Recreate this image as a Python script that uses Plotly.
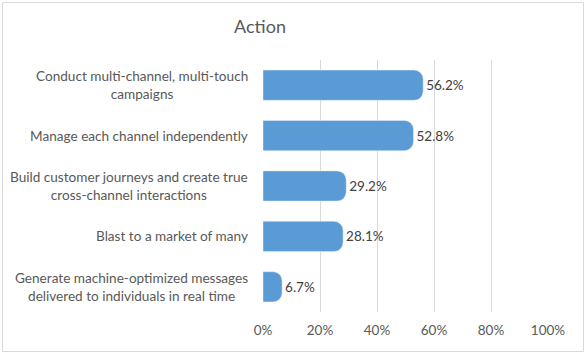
import plotly.graph_objects as go

categories = [
    "Conduct multi-channel, multi-touch<br>campaigns",
    "Manage each channel independently",
    "Build customer journeys and create true<br>cross-channel interactions",
    "Blast to a market of many",
    "Generate machine-optimized messages<br>delivered to individuals in real time",
]
values = [0.562, 0.528, 0.292, 0.281, 0.067]
tick_vals = [0, 0.2, 0.4, 0.6, 0.8, 1.0]
tick_text = ["0%", "20%", "40%", "60%", "80%", "100%"]

W, H = 587, 355
L, R, T, B = 263, 39, 60, 43
FONT = "Lato, 'Open Sans', sans-serif"

fig = go.Figure(go.Bar(
    y=categories,
    x=values,
    orientation="h",
    width=0.6,
    marker=dict(color="#5B9BD5", cornerradius=9),
    text=[f"{v*100:.1f}%" for v in values],
    textposition="outside",
    textfont=dict(family=FONT, size=13.5, color="#404040"),
    cliponaxis=False,
))

annotations = [
    dict(x=0, y=c, xref="paper", yref="y", text=c, showarrow=False,
         xanchor="right", yanchor="middle", align="center", xshift=-13,
         font=dict(family=FONT, size=13.6, color="#595959"))
    for c in categories
]

pw = W - L - R
ph = H - T - B
x0 = (2.5 - L) / pw
x1 = (W - 3.5 - L) / pw
y0 = -(H - 3.5 - T - ph) / ph
y1 = 1 + (T - 2.5) / ph

fig.update_layout(
    width=W, height=H,
    margin=dict(l=L, r=R, t=T, b=B, autoexpand=False),
    paper_bgcolor="white", plot_bgcolor="white",
    title=dict(text="Action", x=260 / W, xref="container", xanchor="center",
               y=1 - 27 / H, yref="container", yanchor="middle",
               font=dict(family=FONT, size=18, color="#595959")),
    xaxis=dict(range=[0, 1.0], tickvals=tick_vals, ticktext=tick_text,
               showgrid=True, gridcolor="#D9D9D9", gridwidth=1,
               zeroline=False, showline=False, ticks="", automargin=False,
               ticklabelstandoff=8,
               tickfont=dict(family=FONT, size=13.5, color="#595959"),
               fixedrange=True),
    yaxis=dict(autorange="reversed", showticklabels=False, showgrid=False,
               zeroline=False, showline=False, ticks="", automargin=False),
    annotations=annotations,
    shapes=[dict(type="rect", xref="paper", yref="paper",
                 x0=x0, x1=x1, y0=y0, y1=y1,
                 line=dict(color="#D9D9D9", width=1), layer="below")],
    showlegend=False,
)

fig.write_html(
    "out.html",
    config={"displayModeBar": False},
    post_script="document.body.style.margin='0';document.body.style.overflow='hidden';",
)
